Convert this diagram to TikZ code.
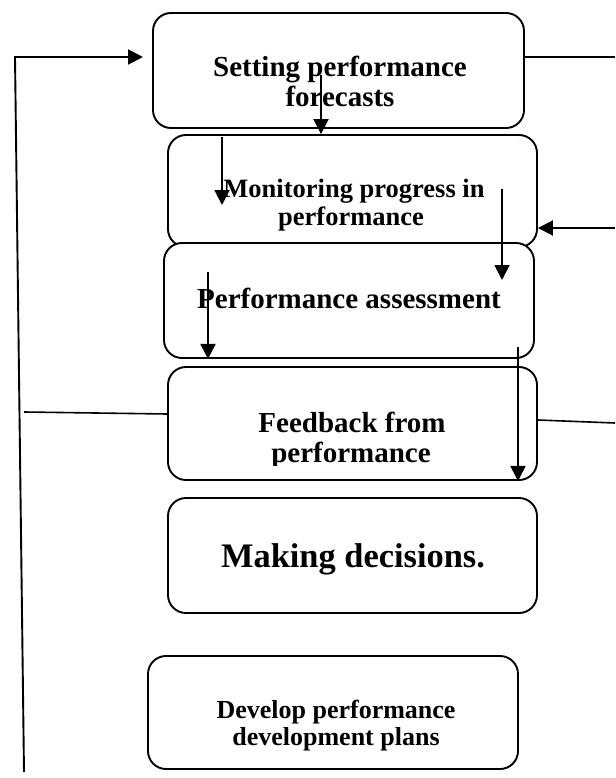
\documentclass[tikz,border=0pt]{standalone}
\usepackage{fontspec}
\setmainfont{Liberation Serif}
\usetikzlibrary{arrows.meta}
\begin{document}
\begin{tikzpicture}[x=1pt,y=-1pt,
  box/.style={draw,line width=1.9pt,rounded corners=18pt,fill=white,inner sep=0pt},
  arr/.style={line width=1.9pt,-{Triangle[length=15pt,width=15pt]}},
  ln/.style={line width=1.6pt},
  lbl/.style={inner sep=0pt,anchor=base},
  fA/.style={font=\bfseries\fontsize{29}{30}\selectfont},
  fB/.style={font=\bfseries\fontsize{26.5}{28}\selectfont},
  fC/.style={font=\bfseries\fontsize{34.4}{36}\selectfont},
  fD/.style={font=\bfseries\fontsize{26}{27}\selectfont}]
\useasboundingbox (0,0) rectangle (615,778);
\fill[white] (0,0) rectangle (615,778);

% boxes
\node[box,minimum width=371pt,minimum height=115pt] (b1) at (338.5,70.5) {};
\node[box,minimum width=369pt,minimum height=112pt] (b2) at (352.5,191) {};
\node[box,minimum width=370pt,minimum height=115pt] (b3) at (349,300.5) {};
\node[box,minimum width=369pt,minimum height=113pt] (b4) at (352.5,423.5) {};
\node[box,minimum width=369pt,minimum height=115pt] (b5) at (352.5,555.5) {};
\node[box,minimum width=370pt,minimum height=113pt] (b6) at (333,712.5) {};

% labels
\node[lbl,fA] (t1a) at (340,77) {Setting performance};
\node[lbl,fA] (t1b) at (340,107) {forecasts};
\node[lbl,fB] (t2a) at (354,197) {Monitoring progress in};
\node[lbl,fB] (t2b) at (351,225) {performance};
\node[lbl,fA] (t3) at (349,308) {Performance assessment};
\node[lbl,fA] (t4a) at (352,432) {Feedback from};
\begin{scope}
  \clip (168,367) rectangle (537,465);
  \node[lbl,fA] (t4b) at (351,462) {performance};
\end{scope}
\node[lbl,fC] (t5) at (353,567) {Making decisions.};
\node[lbl,fD] (t6a) at (336,718) {Develop performance};
\node[lbl,fD] (t6b) at (336,745) {development plans};

% coordinates
\coordinate (lb) at (24,772);
\coordinate (lt) at (15,57);
\coordinate (ltip) at (143,57);
\coordinate (r1) at (615,57);
\coordinate (r2) at (615,228);
\coordinate (l4) at (24,412);
\coordinate (r4) at (615,423);
\coordinate (s1) at (321,75);
\coordinate (s2) at (222,137);
\coordinate (e2) at (222,205);
\coordinate (s3) at (502,189);
\coordinate (e3) at (502,280);
\coordinate (s4) at (208,272);
\coordinate (s5) at (518,347);

% connectors
\draw[arr] (lb) -- (lt) -- (ltip);
\draw[ln] (r1 -| b1.east) -- (r1);
\draw[arr] (r2) -- (r2 -| b2.east);
\draw[ln] (l4) -- ([yshift=9.5pt]b4.west);
\draw[ln] ([yshift=3.5pt]b4.east) -- (r4);
\draw[arr] (s1) -- (s1 |- b2.north);
\draw[arr] (s2) -- (e2);
\draw[arr] (s3) -- (e3);
\draw[arr] (s4) -- (s4 |- b3.south);
\draw[arr] (s5) -- (s5 |- b4.south);
\end{tikzpicture}
\end{document}
